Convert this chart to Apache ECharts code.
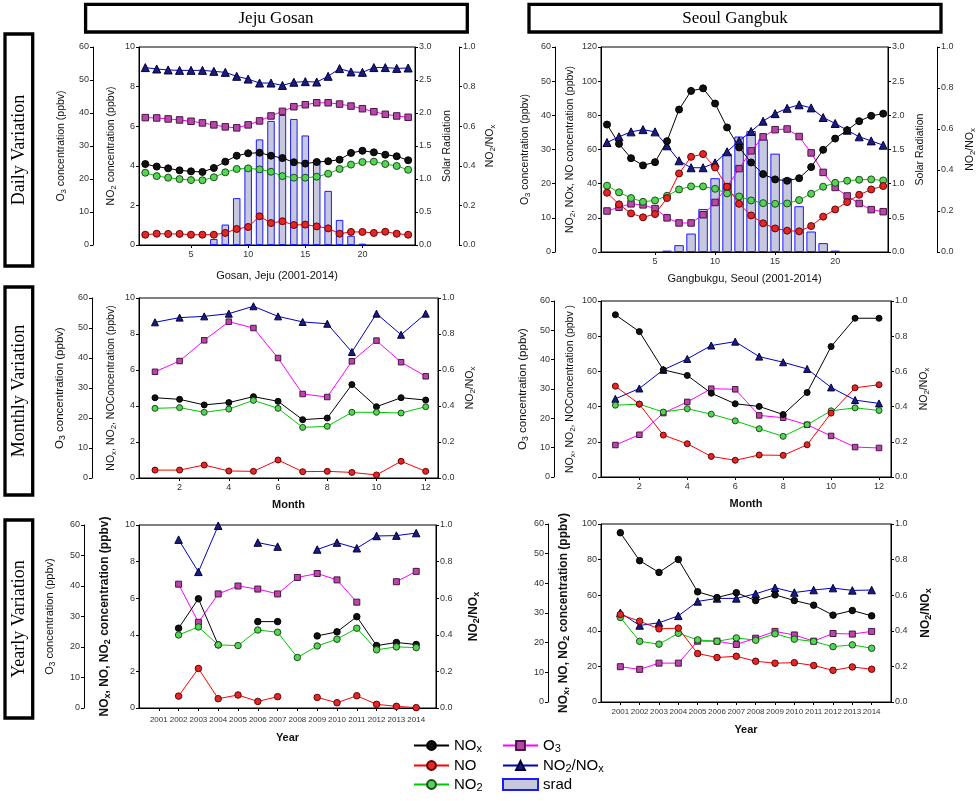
<!DOCTYPE html>
<html><head><meta charset="utf-8">
<script src="https://cdn.jsdelivr.net/npm/echarts@6/dist/echarts.min.js"></script>
<style>html,body{margin:0;padding:0;background:#fff}#c{width:979px;height:801px}</style>
</head><body><div id="c"></div>
<script>
// ---------- categories / tick labels ----------
const hours = [1,2,3,4,5,6,7,8,9,10,11,12,13,14,15,16,17,18,19,20,21,22,23,24];
const hourTicks = [5,10,15,20];
const months = [1,2,3,4,5,6,7,8,9,10,11,12];
const monthTicks = [2,4,6,8,10,12];
const years = [2001,2002,2003,2004,2005,2006,2007,2008,2009,2010,2011,2012,2013,2014];

// ---------- Jeju Gosan daily ----------
const jejuDailyNOx = [4.09,3.96,3.87,3.77,3.72,3.69,3.89,4.21,4.51,4.63,4.66,4.51,4.39,4.18,4.11,4.19,4.23,4.31,4.65,4.76,4.68,4.56,4.48,4.28];
const jejuDailyNO = [0.52,0.57,0.56,0.56,0.52,0.52,0.52,0.61,0.81,0.91,1.45,1.11,1.20,1.01,1.03,0.94,0.84,0.57,0.66,0.66,0.61,0.67,0.57,0.52];
const jejuDailyNO2 = [3.65,3.48,3.40,3.33,3.28,3.27,3.42,3.67,3.84,3.87,3.82,3.70,3.48,3.40,3.40,3.45,3.60,3.84,4.06,4.19,4.21,4.09,3.99,3.80];
const jejuDailyO3 = [38.6,38.5,38.2,37.9,37.5,37.0,36.4,35.8,35.5,36.4,37.6,39.1,40.5,41.9,42.5,43.1,43.1,42.7,42.1,41.3,40.4,39.6,39.1,38.7];
const jejuDailyRatio = [0.896,0.889,0.884,0.882,0.882,0.882,0.877,0.872,0.852,0.838,0.818,0.818,0.806,0.822,0.825,0.823,0.852,0.891,0.874,0.872,0.896,0.896,0.892,0.894];
const jejuDailySrad = [null,null,null,null,null,null,0.09,0.31,0.71,1.19,1.60,1.88,1.97,1.91,1.66,1.29,0.82,0.38,0.14,0.02,null,null,null,null];

// ---------- Seoul Gangbuk daily ----------
const seoulDailyNOx = [74.6,63.3,54.9,50.7,52.6,64.9,83.4,94.3,95.8,86.9,72.9,61.2,52.4,45.6,42.5,41.7,43.2,49.7,59.8,66.4,71.3,76.6,79.7,81.0];
const seoulDailyNO = [34.7,27.9,22.6,20.3,22.2,31.6,46.0,55.7,57.3,49.5,38.2,28.2,21.4,16.8,13.8,12.5,12.1,15.2,20.7,24.9,29.2,33.5,36.6,38.6];
const seoulDailyNO2 = [38.8,34.9,31.6,29.4,30.2,32.9,36.6,38.4,38.4,37.0,34.3,32.5,30.2,28.6,28.2,28.4,30.4,34.1,38.2,40.5,41.7,42.3,42.5,41.9];
const seoulDailyO3 = [12.0,13.1,14.1,13.8,12.7,10.0,8.5,8.5,10.9,14.5,19.1,24.4,29.6,33.7,35.8,36.0,33.8,29.0,23.3,18.9,16.4,14.2,12.4,11.8];
const seoulDailyRatio = [0.534,0.562,0.586,0.597,0.586,0.518,0.445,0.411,0.411,0.435,0.489,0.542,0.588,0.638,0.675,0.701,0.718,0.703,0.656,0.627,0.594,0.562,0.542,0.521];
const seoulDailySrad = [null,null,null,null,null,0.02,0.10,0.27,0.63,1.08,1.44,1.69,1.77,1.65,1.44,1.08,0.67,0.30,0.13,0.02,null,null,null,null];

// ---------- Jeju Gosan monthly ----------
const jejuMonthlyNOx = [4.46,4.37,4.06,4.19,4.52,4.26,3.24,3.33,5.19,3.96,4.46,4.33];
const jejuMonthlyNO2 = [3.87,3.91,3.65,3.83,4.31,3.87,2.81,2.87,3.65,3.65,3.61,3.96];
const jejuMonthlyNO = [0.44,0.44,0.72,0.39,0.37,1.00,0.35,0.37,0.31,0.17,0.93,0.37];
const jejuMonthlyO3 = [35.4,39.0,45.9,52.1,50.0,40.0,28.0,27.0,38.9,45.8,38.6,33.9];
const jejuMonthlyRatio = [0.865,0.891,0.898,0.913,0.954,0.898,0.867,0.857,0.700,0.913,0.796,0.913];

// ---------- Seoul Gangbuk monthly ----------
const seoulMonthlyNOx = [92.2,82.6,60.9,57.7,47.6,41.6,40.1,35.5,48.0,74.1,90.2,90.2];
const seoulMonthlyNO = [51.6,41.4,23.8,18.9,11.7,9.5,12.5,12.3,18.3,36.3,50.7,52.4];
const seoulMonthlyNO2 = [40.8,41.4,36.9,38.8,35.7,31.9,27.4,23.1,29.7,37.6,39.3,37.8];
const seoulMonthlyO3 = [10.9,14.4,21.8,25.6,30.1,29.9,21.0,20.2,17.8,14.0,10.2,9.9];
const seoulMonthlyRatio = [0.444,0.503,0.609,0.671,0.747,0.769,0.684,0.652,0.614,0.509,0.437,0.418];

// ---------- Jeju Gosan yearly ----------
const jejuYearlyNOx = [null,4.36,5.97,3.45,null,4.72,4.72,null,3.94,4.16,4.99,3.41,3.58,3.47];
const jejuYearlyNO2 = [null,3.99,4.43,3.45,3.41,4.26,4.14,2.76,3.39,3.76,4.36,3.18,3.34,3.30];
const jejuYearlyNO = [null,0.65,2.16,0.51,0.71,0.36,0.62,null,0.58,0.29,0.67,0.20,0.09,0.02];
const jejuYearlyO3 = [null,40.6,28.1,37.4,40.0,39.0,37.4,42.8,44.1,42.0,34.7,null,41.4,44.8];
const jejuYearlyRatio = [null,0.920,0.744,0.996,null,0.904,0.882,null,0.866,0.904,0.873,0.940,0.942,0.956];

// ---------- Seoul Gangbuk yearly ----------
const seoulYearlyNOx = [95.1,79.4,72.8,80.1,61.9,58.7,61.4,57.0,60.2,57.0,54.4,48.8,51.4,48.4];
const seoulYearlyNO = [49.2,45.4,41.1,41.5,27.2,25.0,25.7,22.9,21.8,22.1,20.5,17.8,19.7,18.4];
const seoulYearlyNO2 = [47.5,34.1,32.5,38.6,34.9,34.1,36.0,34.7,38.3,35.3,34.0,31.1,32.1,30.2];
const seoulYearlyO3 = [11.9,11.0,13.1,13.1,20.5,20.5,19.4,21.5,23.8,22.6,20.5,23.1,22.9,23.8];
const seoulYearlyRatio = [0.501,0.430,0.445,0.484,0.565,0.582,0.582,0.608,0.642,0.615,0.629,0.640,0.627,0.629];

// ---------- styles ----------
const STY = {
  'NOx':     {line:'#000000', symbol:'circle',   fill:'#111111', border:'#000000'},
  'NO':      {line:'#ff0000', symbol:'circle',   fill:'#e02828', border:'#6a0000'},
  'NO2':     {line:'#00c800', symbol:'circle',   fill:'#55d455', border:'#1c4a1c'},
  'O3':      {line:'#ff00ff', symbol:'rect',     fill:'#b848a8', border:'#4a1444'},
  'NO2/NOx': {line:'#0000c8', symbol:'triangle', fill:'#1c1c78', border:'#000040'}
};
const FONT = 'Liberation Sans';
const SUB = (fs, bold) => ({fontSize: fs, verticalAlign: 'bottom', fontFamily: FONT, fontWeight: bold ? 'bold' : 'normal', color: '#111'});

const option = {
  animation: false,
  backgroundColor: '#ffffff',
  grid: [], xAxis: [], yAxis: [], series: [],
  legend: [], graphic: []
};

function yAxisDef(gi, pos, off, max, interval, name, gap, dec, nameFs, bold) {
  return {
    type: 'value', gridIndex: gi, position: pos, offset: off, min: 0, max: max, interval: interval,
    axisLine: {show: true, onZero: false, lineStyle: {color: '#000', width: 1}},
    axisTick: {show: true, length: 3, lineStyle: {color: '#000'}},
    axisLabel: {fontSize: 9, color: '#333', fontFamily: FONT, margin: 4,
      formatter: v => dec ? v.toFixed(1) : String(Math.round(v))},
    splitLine: {show: false},
    name: name || '', nameLocation: 'middle', nameRotate: 90, nameGap: gap,
    nameTextStyle: {fontSize: nameFs || 10.5, fontFamily: FONT, color: '#111', fontWeight: bold ? 'bold' : 'normal',
      lineHeight: 14, rich: {s: SUB((nameFs || 10.5) * 0.75, bold)}}
  };
}

function addPanel(p) {
  const gi = option.grid.length;
  option.grid.push({left: p.g[0], top: p.g[1], width: p.g[2], height: p.g[3], show: true,
    borderColor: '#000', borderWidth: 1, backgroundColor: 'transparent', containLabel: false, outerBoundsMode: 'none'});
  const xi = option.xAxis.length;
  option.xAxis.push({
    type: 'value', gridIndex: gi, min: p.xmin, max: p.xmax,
    axisLine: {show: true, onZero: false, lineStyle: {color: '#000'}},
    axisTick: {show: true, length: 3, customValues: p.ticks, lineStyle: {color: '#000'}},
    axisLabel: {customValues: p.ticks, fontSize: p.xfs || 9, color: '#333', fontFamily: FONT, margin: p.xmargin || 5,
      hideOverlap: false, showMinLabel: true, showMaxLabel: true, formatter: v => String(v)},
    splitLine: {show: false},
    name: p.xName, nameLocation: 'middle', nameGap: p.xGap,
    nameTextStyle: {fontSize: p.xNameFs || 10.5, fontWeight: p.xBold ? 'bold' : 'normal', fontFamily: FONT, color: '#111'}
  });
  const yMain = option.yAxis.length;
  option.yAxis.push(yAxisDef(gi, 'left', 0, p.mainMax, p.mainInt, p.mainName, p.mainGap, false, p.mainFs, p.mainBold));
  const yO3 = option.yAxis.length;
  option.yAxis.push(yAxisDef(gi, 'left', p.o3Off, 60, 10, p.o3Name, p.o3Gap, false, p.o3Fs, false));
  let yS = null;
  if (p.srad) {
    yS = option.yAxis.length;
    option.yAxis.push(yAxisDef(gi, 'right', 0, 3, 0.5, 'Solar Radiation', p.sradGap, true, 10.5, false));
  }
  const yR = option.yAxis.length;
  option.yAxis.push(yAxisDef(gi, 'right', p.rOff, 1, 0.2, 'NO{s|2}/NO{s|x}', p.rGap, true, p.rFs, p.rBold));

  const xs = p.x;
  const pairs = arr => xs.map((x, i) => [x, arr[i]]);
  if (p.srad) {
    option.series.push({type: 'bar', name: 'srad', xAxisIndex: xi, yAxisIndex: yS, data: pairs(p.srad),
      barWidth: p.barW, itemStyle: {color: '#c8c8dc', borderColor: '#1a1aff', borderWidth: 1}});
  }
  const order = [['NO2/NOx', p.ratio, yR], ['O3', p.o3, yO3], ['NOx', p.nox, yMain], ['NO2', p.no2, yMain], ['NO', p.no, yMain]];
  order.forEach(([name, arr, yi]) => {
    const s = STY[name];
    let size = p.sym;
    if (s.symbol === 'triangle') size = p.sym + 1;
    if (s.symbol === 'rect') size = p.sym - 0.5;
    option.series.push({type: 'line', name: name, xAxisIndex: xi, yAxisIndex: yi, data: pairs(arr),
      symbol: s.symbol, symbolSize: size, showAllSymbol: true, connectNulls: false,
      lineStyle: {color: s.line, width: 1},
      itemStyle: {color: s.fill, borderColor: s.border, borderWidth: 1}});
  });
}

// Daily Jeju
addPanel({g: [139, 47, 276, 198], xmin: 0.45, xmax: 24.6, ticks: hourTicks, x: hours,
  xName: 'Gosan, Jeju (2001-2014)', xGap: 25, xNameFs: 11,
  mainMax: 10, mainInt: 2, mainName: 'NO{s|2} concentration (ppbv)', mainGap: 21,
  o3Off: 46, o3Name: 'O{s|3} concentration (ppbv)', o3Gap: 25,
  rOff: 44, rGap: 24, sradGap: 25, barW: 7.5, sym: 7,
  nox: jejuDailyNOx, no: jejuDailyNO, no2: jejuDailyNO2, o3: jejuDailyO3, ratio: jejuDailyRatio, srad: jejuDailySrad});
// Daily Seoul
addPanel({g: [601, 47, 287, 205], xmin: 0.5, xmax: 24.4, ticks: hourTicks, x: hours,
  xName: 'Gangbukgu, Seoul (2001-2014)', xGap: 21, xNameFs: 11,
  mainMax: 120, mainInt: 20, mainName: 'NO{s|2}, NOx, NO concentration (ppbv)', mainGap: 24,
  o3Off: 46, o3Name: 'O{s|3} concentration (ppbv)', o3Gap: 23,
  rOff: 49, rGap: 26, sradGap: 25, barW: 9.5, sym: 7,
  nox: seoulDailyNOx, no: seoulDailyNO, no2: seoulDailyNO2, o3: seoulDailyO3, ratio: seoulDailyRatio, srad: seoulDailySrad});
// Monthly Jeju
addPanel({g: [139, 298, 299, 180], xmin: 0.35, xmax: 12.5, ticks: monthTicks, x: months,
  xName: 'Month', xGap: 21, xBold: true, xNameFs: 11,
  mainMax: 10, mainInt: 2, mainName: 'NO{s|x}, NO{s|2}, NOConcentration (ppbv)', mainGap: 21,
  o3Off: 47, o3Name: 'O{s|3} concentration (ppbv)', o3Gap: 25, o3Fs: 11.5,
  rOff: 0, rGap: 25, sym: 6,
  nox: jejuMonthlyNOx, no: jejuMonthlyNO, no2: jejuMonthlyNO2, o3: jejuMonthlyO3, ratio: jejuMonthlyRatio});
// Monthly Seoul
addPanel({g: [601, 301, 290, 176], xmin: 0.4, xmax: 12.5, ticks: monthTicks, x: months,
  xName: 'Month', xGap: 21, xBold: true, xNameFs: 11,
  mainMax: 100, mainInt: 20, mainName: 'NO{s|x}, NO{s|2}, NOConcentration (ppbv )', mainGap: 24,
  o3Off: 47, o3Name: 'O{s|3} concentration (ppbv)', o3Gap: 24, o3Fs: 11.5,
  rOff: 0, rGap: 26, sym: 6,
  nox: seoulMonthlyNOx, no: seoulMonthlyNO, no2: seoulMonthlyNO2, o3: seoulMonthlyO3, ratio: seoulMonthlyRatio});
// Yearly Jeju
addPanel({g: [139, 525, 297, 183], xmin: 2000, xmax: 2015, ticks: years, x: years, xfs: 8, xmargin: 8,
  xName: 'Year', xGap: 24, xBold: true, xNameFs: 11,
  mainMax: 10, mainInt: 2, mainName: 'NO{s|x}, NO, NO{s|2} concentration (ppbv)', mainGap: 27, mainFs: 12, mainBold: true,
  o3Off: 55, o3Name: 'O{s|3} concentration (ppbv)', o3Gap: 27, o3Fs: 11,
  rOff: 0, rGap: 31, rFs: 12, rBold: true, sym: 6.5,
  nox: jejuYearlyNOx, no: jejuYearlyNO, no2: jejuYearlyNO2, o3: jejuYearlyO3, ratio: jejuYearlyRatio});
// Yearly Seoul
addPanel({g: [601, 524, 290, 178], xmin: 2000, xmax: 2015, ticks: years, x: years, xfs: 8, xmargin: 6,
  xName: 'Year', xGap: 22, xBold: true, xNameFs: 11,
  mainMax: 100, mainInt: 20, mainName: 'NO{s|x}, NO, NO{s|2} concentration (ppbv)', mainGap: 30, mainFs: 12, mainBold: true,
  o3Off: 53, o3Name: '', o3Gap: 27,
  rOff: 0, rGap: 28, rFs: 12, rBold: true, sym: 6.5,
  nox: seoulYearlyNOx, no: seoulYearlyNO, no2: seoulYearlyNO2, o3: seoulYearlyO3, ratio: seoulYearlyRatio});

// ---------- legend (one single-item legend per entry) ----------
const legendNames = ['NOx', 'NO', 'NO2', 'O3', 'NO2/NOx', 'srad'];
const legendText = {'NOx': 'NO{s|x}', 'NO': 'NO', 'NO2': 'NO{s|2}', 'O3': 'O{s|3}', 'NO2/NOx': 'NO{s|2}/NO{s|x}', 'srad': 'srad'};
const legendLeft = [413, 413, 413, 502, 502, 502];
const legendTop = [737, 757, 776, 737, 757, 776];
legendNames.forEach((n, i) => {
  option.legend.push({
    orient: 'horizontal', left: legendLeft[i], top: legendTop[i], padding: 0,
    itemWidth: 35, itemHeight: 11, itemGap: 2, selectedMode: false,
    data: [n === 'srad' ? {name: n, icon: 'rect'} : n],
    formatter: nm => legendText[nm],
    textStyle: {fontSize: 15, fontFamily: FONT, color: '#000', lineHeight: 17,
      rich: {s: {fontSize: 11, verticalAlign: 'bottom', lineHeight: 17, fontFamily: FONT, color: '#000'}}}
  });
});

// ---------- decorative title boxes ----------
const boxStyle = {fill: '#fff', stroke: '#000', lineWidth: 3.3};
option.graphic = [
  {type: 'rect', shape: {x: 85.6, y: 4.3, width: 381.7, height: 27.7}, style: boxStyle, z: 0},
  {type: 'text', x: 276, y: 18.5, style: {text: 'Jeju Gosan', align: 'center', verticalAlign: 'middle', font: '17px "Liberation Serif"', fill: '#000'}},
  {type: 'rect', shape: {x: 529, y: 4.3, width: 412, height: 27.7}, style: boxStyle, z: 0},
  {type: 'text', x: 735, y: 18.5, style: {text: 'Seoul Gangbuk', align: 'center', verticalAlign: 'middle', font: '17px "Liberation Serif"', fill: '#000'}},
  {type: 'rect', shape: {x: 5, y: 34, width: 27.7, height: 232}, style: boxStyle},
  {type: 'text', x: 19, y: 150, rotation: Math.PI / 2, style: {text: 'Daily Variation', align: 'center', verticalAlign: 'middle', font: '18px "Liberation Serif"', fill: '#000'}},
  {type: 'rect', shape: {x: 5, y: 287, width: 27.7, height: 208}, style: boxStyle},
  {type: 'text', x: 19, y: 391, rotation: Math.PI / 2, style: {text: 'Monthly Variation', align: 'center', verticalAlign: 'middle', font: '18px "Liberation Serif"', fill: '#000'}},
  {type: 'rect', shape: {x: 5, y: 520, width: 27.7, height: 198}, style: boxStyle},
  {type: 'text', x: 19, y: 619, rotation: Math.PI / 2, style: {text: 'Yearly Variation', align: 'center', verticalAlign: 'middle', font: '18px "Liberation Serif"', fill: '#000'}}
];

const chart = echarts.init(document.getElementById('c'), null, {renderer: 'canvas'});
chart.setOption(option);
</script>
</body></html>
